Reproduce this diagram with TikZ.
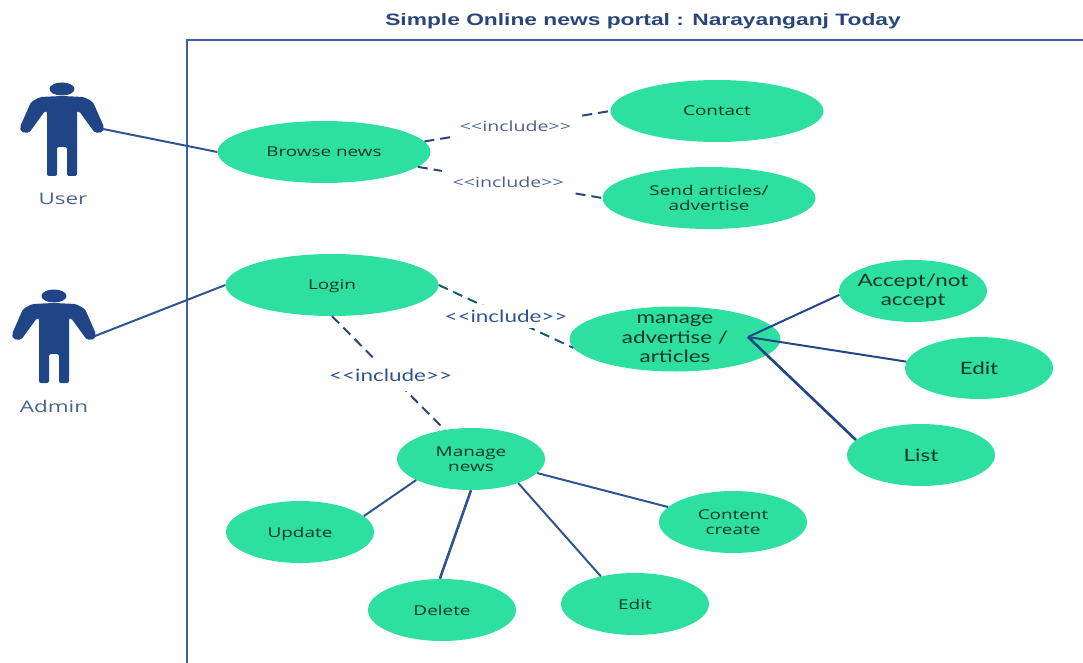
\documentclass[tikz,border=0pt]{standalone}
\usepackage{fontspec}
\setmainfont[FakeStretch=1.4]{Open Sans}
\newfontfamily\titlefont[FakeStretch=1.38]{Liberation Sans Bold}
\newfontfamily\lat[FakeStretch=1.32]{Lato}
\newcommand{\incltext}{<{}<include>{}>}
\usetikzlibrary{shapes.geometric}
\definecolor{usecase}{HTML}{2EE09F}
\definecolor{frameblue}{HTML}{3F629F}
\definecolor{actorblue}{HTML}{1F4587}
\definecolor{linkblue}{HTML}{2F5590}
\definecolor{dashblue}{HTML}{27477C}
\definecolor{labelblue}{HTML}{4A6290}
\definecolor{casetext}{HTML}{16352C}
\tikzset{
  x=1pt,y=-1pt,
  big/.style={ellipse,fill=usecase,draw=none,minimum width=213pt,minimum height=62pt,inner sep=-14pt,align=center,text=casetext,font=\fontsize{13.5}{14.5}\selectfont},
  small/.style={big,minimum width=148pt},
  larger/.style={font=\lat\fontsize{17}{19.5}\selectfont},
  lowered/.style={text depth=0pt},
  incl/.style={fill=white,text=labelblue,inner ysep=7pt,inner xsep=9pt,font=\fontsize{14}{16}\selectfont},
  inclbig/.style={fill=white,text=linkblue,inner xsep=0pt,font=\lat\fontsize{17}{19}\selectfont},
  dashlink/.style={draw=dashblue,line width=2pt,dash pattern=on 10pt off 6pt},
  assoc/.style={draw=linkblue,line width=2pt},
  actorlabel/.style={text=labelblue,font=\fontsize{16}{18}\selectfont,inner sep=0pt}
}
\newcommand{\actorshape}[2]{%
  \fill[actorblue,shift={(#1,#2)}] (0,0) ellipse [x radius=12.5pt,y radius=6.5pt];
  \fill[actorblue,shift={(#1,#2)},rounded corners=2pt]
    (0,7) -- (22,8) -- (31,13) -- (42,38) -- (41,43) -- (33,44) -- (17,22)
    -- (15,22) -- (15,87) -- (5,87) -- (5,58) -- (-5,58) -- (-5,87) -- (-15,87)
    -- (-15,22) -- (-17,22) -- (-33,44) -- (-41,43) -- (-42,38) -- (-31,13) -- (-22,8) -- cycle;
}
\begin{document}
\begin{tikzpicture}
\useasboundingbox (0,0) rectangle (1083,663);
\draw[frameblue,line width=1.4pt] (187,663) -- (187,40) -- (1083,40);
\node[text=dashblue,inner sep=0pt,font=\titlefont\fontsize{16.5}{18}\selectfont] (title) at (643,21) {Simple Online news portal : Narayanganj Today};
% actors
\actorshape{62}{89}
\actorshape{54}{296}
\coordinate (userhand) at (103,129);
\coordinate (adminhand) at (95,336);
\node[actorlabel] (userlabel) at (63,199) {User};
\node[actorlabel] (adminlabel) at (54,406) {Admin};
% use cases
\node[big] (contact) at (717,111) {Contact};
\node[big,lowered] (browse) at (324,152) {Browse news};
\node[big] (send) at (709,198) {Send articles/\\advertise};
\node[big,lowered] (login) at (332,285) {Login};
\node[big,minimum width=211pt,minimum height=65pt,larger] (madv) at (675,339) {manage\\advertise /\\articles};
\node[small,larger] (accept) at (913,291) {Accept/not\\accept};
\node[small,larger] (edita) at (979,368) {Edit};
\node[small,larger] (list) at (921,455) {List};
\node[small] (mnews) at (471,459) {Manage\\news};
\node[small,lowered] (update) at (300,532) {Update};
\node[small] (delete) at (442,610) {Delete};
\node[small] (editn) at (635,604) {Edit};
\node[small] (content) at (733,522) {Content\\create};
% associations
\draw[assoc] (userhand) -- (browse.west);
\draw[assoc] (adminhand) -- (login.west);
\coordinate (hub) at (748,337);
\draw[assoc,draw=actorblue!80!linkblue] (hub) -- (accept.183);
\draw[assoc,draw=actorblue!80!linkblue] (hub) -- (edita.175);
\draw[assoc,draw=actorblue,line width=2.6pt] (hub) -- (list.167);
\draw[assoc] (update.14) -- (mnews.201);
\draw[assoc,line width=2.6pt] (delete.94) -- (mnews.270);
\draw[assoc] (editn.141) -- (mnews.-27);
\draw[assoc] (content.167) -- (mnews.-12);
% includes
\draw[dashlink] (browse.6) -- (contact.west) node[incl,pos=0.49] (inc1) {\incltext};
\draw[dashlink] (browse.-9) -- (send.west) node[incl,inner xsep=11pt,pos=0.49] (inc2) {\incltext};
\draw[dashlink,draw=dashblue!70!teal] (login.0) -- (madv.185) node[inclbig,inner ysep=5pt,pos=0.5] (inc3) {\incltext};
\draw[dashlink] (login.270) -- (mnews.132) node[inclbig,inner ysep=9pt,pos=0.52] (inc4) {\incltext};
\end{tikzpicture}
\end{document}
